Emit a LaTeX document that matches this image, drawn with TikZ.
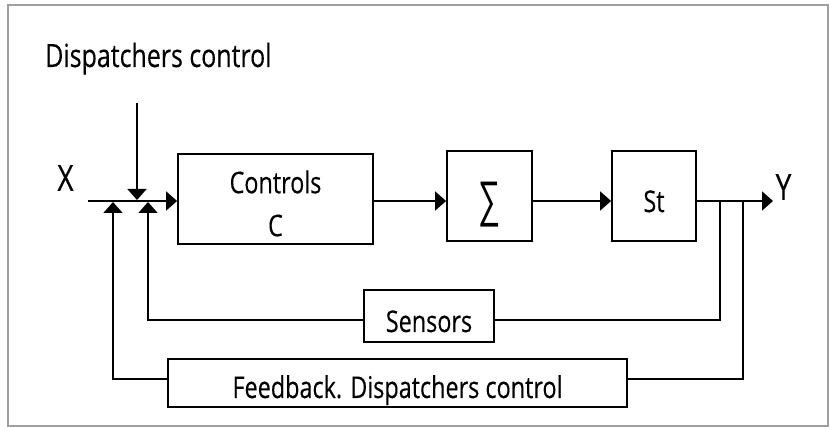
\documentclass[tikz,border=0pt]{standalone}
\usepackage{fontspec}
\setmainfont{Open Sans}[FakeStretch=0.78, FakeBold=0.25]
\newfontfamily\symfont{Liberation Sans}
\usetikzlibrary{arrows.meta}

\begin{document}
\begin{tikzpicture}[x=1pt,y=-1pt,
  blk/.style={draw, line width=1.8pt, inner sep=0pt},
  wire/.style={line width=1.8pt},
  arr/.style={wire, -{Triangle[length=11pt,width=19pt]}},
  txt/.style={inner sep=0pt, align=center, font=\fontsize{30}{43}\selectfont},
  ttl/.style={inner sep=0pt, font=\fontsize{32}{43}\selectfont},
  io/.style={inner sep=0pt, font=\fontsize{36}{40}\selectfont}]

  % page and frame
  \path[use as bounding box] (0,0) rectangle (830,427);
  \draw[gray!75, line width=1.4pt] (8,5) rectangle (828,426);

  % title
  \node[ttl, anchor=base west] (title) at (45,67) {Dispatchers control};

  % main chain of blocks
  \node[blk, minimum width=195pt, minimum height=90pt] (ctrl) at (275.5,199) {};
  \node[blk, minimum width=85pt, minimum height=90pt] (sig) at (489.5,196) {};
  \node[blk, minimum width=84pt, minimum height=90pt] (st) at (654,196) {};

  % feedback blocks
  \node[blk, minimum width=130pt, minimum height=52pt] (sens) at (429,316) {};
  \node[blk, minimum width=459pt, minimum height=48pt] (fb) at (397.5,383) {};

  % block captions
  \node[txt] (ctrltxt) at ([yshift=-4.5pt]ctrl.center) {Controls\\C};
  \node[inner sep=0pt] (sigtxt) at ([yshift=-9pt]sig.center)
       {\symfont\fontsize{50}{50}\selectfont\scalebox{0.62}[1]{∑}};
  \node[txt, anchor=base] (sttxt) at ([yshift=-16pt]st.center) {St};
  \node[txt, anchor=base] (senstxt) at ([yshift=-16pt]sens.center) {Sensors};
  \node[txt, anchor=base] (fbtxt) at ([yshift=-15pt]fb.center)
       {Feedback. Dispatchers control};

  % input / output labels
  \node[io] (xl) at (65.5,178) {X};
  \node[io] (yl) at (783.5,187) {Y};

  % reference points on the signal line
  \coordinate (main) at (0,201);
  \coordinate (xin)  at (88,201);
  \coordinate (dtop) at (137,103);
  \coordinate (dtip) at (137,200);
  \coordinate (u1)   at (113,202);
  \coordinate (u2)   at (148,202);
  \coordinate (b1)   at (720,201);
  \coordinate (b2)   at (743,201);
  \coordinate (yout) at (773,201);

  % forward path
  \draw[arr] (xin) -- (ctrl.west |- main);
  \draw[arr] (dtop) -- (dtip);
  \draw[arr] (ctrl.east |- main) -- (sig.west |- main);
  \draw[arr] (sig.east |- main) -- (st.west |- main);
  \draw[arr] (st.east |- main) -- (yout);

  % sensor loop
  \draw[wire] (b1) |- ([yshift=-4pt]sens.east);
  \draw[arr] ([yshift=-4pt]sens.west) -| (u2);

  % dispatcher feedback loop
  \draw[wire] (b2) |- ([yshift=4pt]fb.east);
  \draw[arr] ([yshift=4pt]fb.west) -| (u1);
\end{tikzpicture}
\end{document}
